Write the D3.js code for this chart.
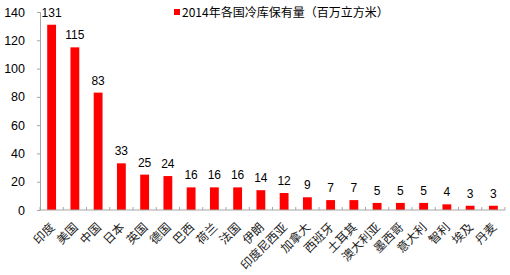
<!DOCTYPE html>
<html>
<head>
<meta charset="utf-8">
<script src="https://cdn.jsdelivr.net/npm/d3@7"></script>
<style>
  body { margin: 0; background: #fff; }
</style>
</head>
<body>
<div id="chart"></div>
<script>
// countries and storage volume (million m3), 2014
const countries = ["印度", "美国", "中国", "日本", "英国", "德国", "巴西", "荷兰", "法国", "伊朗",
                   "印度尼西亚", "加拿大", "西班牙", "土耳其", "澳大利亚", "墨西哥", "意大利", "智利", "埃及", "丹麦"];
const volumes = [131, 115, 83, 33, 25, 24, 16, 16, 16, 14, 12, 9, 7, 7, 5, 5, 5, 4, 3, 3];
const yTicks = [0, 20, 40, 60, 80, 100, 120, 140];
const legendLabel = "2014年各国冷库保有量（百万立方米）";

let w = 510, h = 275;
let margin = { top: 12, bottom: 65, left: 40, right: 5 };

let svg = d3.select("#chart")
  .append("svg")
  .attr("width", w)
  .attr("height", h);

let x = d3.scaleBand()
  .domain(countries)
  .range([margin.left, w - margin.right])
  .paddingInner(0.62)
  .paddingOuter(0.31);

let y = d3.scaleLinear()
  .domain([0, 140])
  .range([h - margin.bottom, margin.top]);

const axisColor = "#a6a6a6";
const sans = "'Liberation Sans', Arial, sans-serif";
const cjk = "'Noto Sans CJK SC', serif";

// y axis
let yAxis = svg.append("g")
  .attr("transform", `translate(${margin.left},0)`)
  .call(d3.axisLeft(y).tickValues(yTicks).tickSize(3).tickPadding(12));
yAxis.select(".domain").attr("stroke", axisColor);
yAxis.selectAll(".tick line").attr("stroke", axisColor);
yAxis.selectAll(".tick text")
  .style("font-family", sans)
  .style("font-size", "12.5px")
  .attr("fill", "#000");

// bars
svg.selectAll(".bar")
  .data(volumes)
  .enter()
  .append("rect")
  .attr("class", "bar")
  .attr("x", (d, i) => x(countries[i]))
  .attr("width", x.bandwidth())
  .attr("y", d => y(d))
  .attr("height", d => y(0) - y(d))
  .attr("fill", "#ff0000");

// value labels
svg.selectAll(".val")
  .data(volumes)
  .enter()
  .append("text")
  .attr("class", "val")
  .attr("x", (d, i) => x(countries[i]) + x.bandwidth() / 2)
  .attr("y", d => y(d) - 8)
  .attr("text-anchor", "middle")
  .style("font-family", sans)
  .style("font-size", "12px")
  .text(d => d);

// x axis line, ticks between categories pointing up
let x0 = margin.left, x1 = w - margin.right;
svg.append("line")
  .attr("x1", x0).attr("x2", x1)
  .attr("y1", y(0)).attr("y2", y(0))
  .attr("stroke", axisColor);

let boundaries = d3.range(countries.length + 1).map(i => x0 + i * (x1 - x0) / countries.length);
svg.selectAll(".xtick")
  .data(boundaries)
  .enter()
  .append("line")
  .attr("class", "xtick")
  .attr("x1", d => d).attr("x2", d => d)
  .attr("y1", y(0)).attr("y2", y(0) - 3)
  .attr("stroke", axisColor);

// category labels, rotated
svg.selectAll(".cat")
  .data(countries)
  .enter()
  .append("text")
  .attr("class", "cat")
  .attr("transform", d => `translate(${x(d) + x.bandwidth() / 2 - 2},${y(0) + 12}) rotate(-45)`)
  .attr("text-anchor", "end")
  .attr("dy", "0.7em")
  .style("font-family", cjk)
  .style("font-size", "12px")
  .attr("fill", "#222")
  .text(d => d);

// legend
svg.append("rect")
  .attr("x", 174).attr("y", 9)
  .attr("width", 6).attr("height", 6)
  .attr("fill", "#ff0000");
svg.append("text")
  .attr("x", 182).attr("y", 17)
  .style("font-family", cjk)
  .style("font-size", "12px")
  .text(legendLabel);
</script>
</body>
</html>
